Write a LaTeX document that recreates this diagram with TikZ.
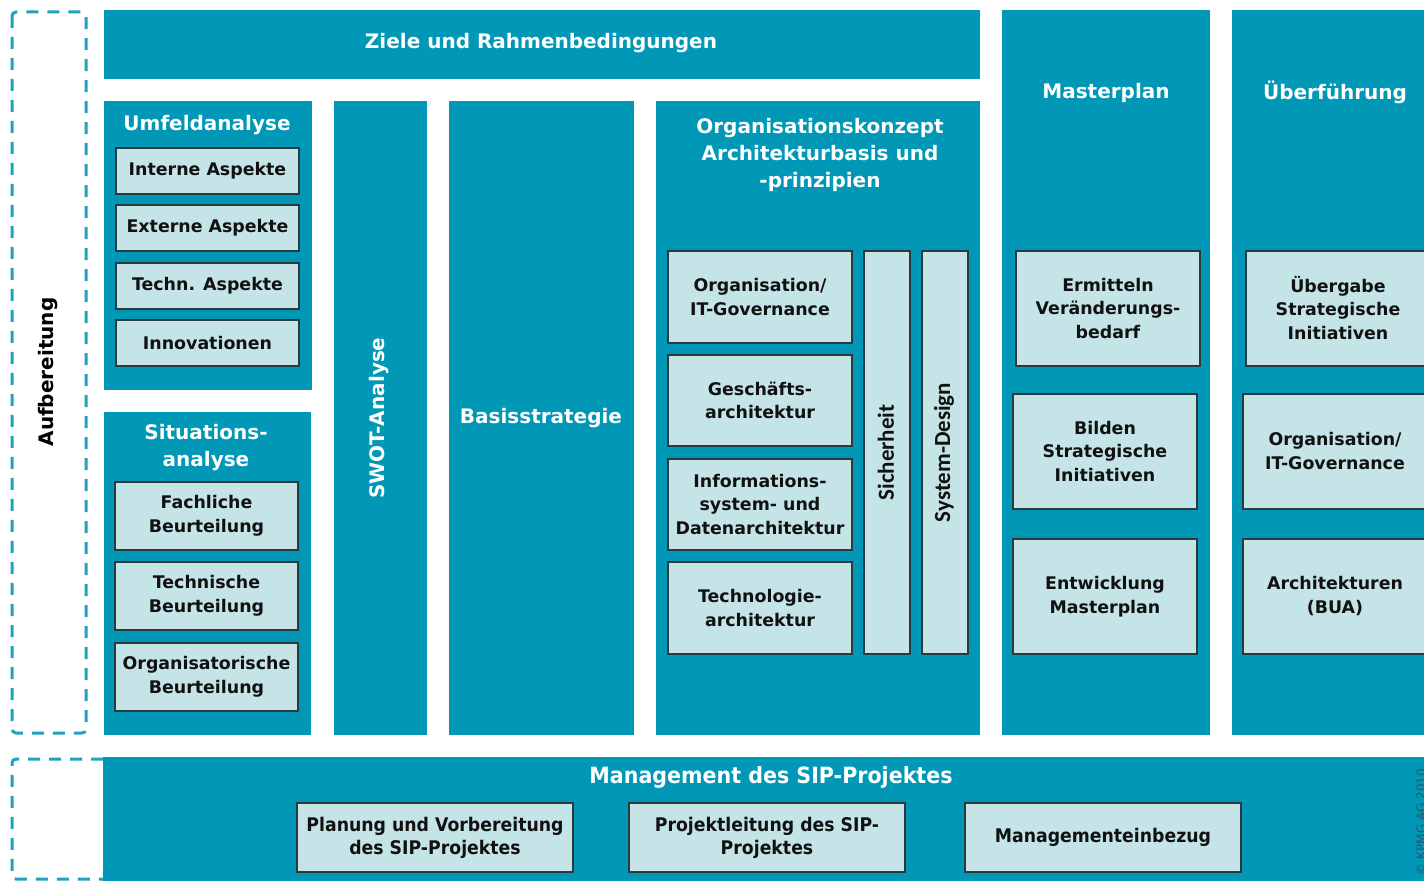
\documentclass[tikz,border=0pt]{standalone}
\usepackage{fontspec}
\setmainfont{DejaVu Sans}
\newfontfamily\condfont[FakeStretch=0.92]{DejaVu Sans}
\newfontfamily\calfont{Carlito}
\usetikzlibrary{fit}
\definecolor{tealA}{HTML}{0098B6}
\definecolor{liteA}{HTML}{C5E4E8}
\definecolor{lineA}{HTML}{2B3A3E}
\definecolor{dashA}{HTML}{1EA2BF}
\definecolor{txtA}{HTML}{111111}
\definecolor{copyA}{HTML}{24596A}
\tikzset{
  dark/.style={fill=tealA, draw=none, inner sep=0pt},
  lite/.style={fill=liteA, draw=lineA, line width=0.7pt, inner sep=0pt},
  btxt/.style={text=txtA, font=\fontsize{8.7}{11.8}\selectfont\bfseries, align=center, inner sep=0pt},
  ttl/.style={text=white, font=\fontsize{10}{13.5}\selectfont\bfseries, align=center},
  dsh/.style={draw=dashA, line width=1.5pt, dash pattern=on 6pt off 4.5pt, rounded corners=2pt},
  cond/.style={font=\condfont\fontsize{9.4}{11.5}\selectfont\bfseries},
  vert/.style={rotate=90, text=txtA, font=\calfont\fontsize{11.5}{13}\selectfont\bfseries}
}
\begin{document}
\begin{tikzpicture}[x=0.5pt,y=-0.5pt]
\useasboundingbox (0,0) rectangle (1424,881);

% dashed frames
\draw[dsh] (12,12) rectangle (86,733);
\draw[dsh] (103,759) -- (12,759) -- (12,879) -- (103,879);
\node[rotate=90, text=black, font=\fontsize{10}{12}\selectfont\bfseries] (aufb) at (48,372) {Aufbereitung};

% top bar
\node[dark, fit={(104,10) (980,79)}] (ziele) {};
\node[ttl] (zieleT) at (541,43) {Ziele und Rahmenbedingungen};

% Umfeldanalyse
\node[dark, fit={(104,101) (312,390)}] (umf) {};
\node[ttl] (umfT) at (207,125) {Umfeldanalyse};
\node[lite, fit={(116,148) (299,194)}] (intern) {};
\node[btxt] at (intern.center) {Interne Aspekte};
\node[lite, fit={(116,205) (299,251)}] (extern) {};
\node[btxt] at (extern.center) {Externe Aspekte};
\node[lite, fit={(116,263) (299,309)}] (techn) {};
\node[btxt] at (techn.center) {Techn. Aspekte};
\node[lite, fit={(116,320) (299,366)}] (innov) {};
\node[btxt] at (innov.center) {Innovationen};

% Situationsanalyse
\node[dark, fit={(104,412) (311,735)}] (sit) {};
\node[ttl] (sitT) at (206,448) {Situations-\\analyse};
\node[lite, fit={(115,482) (298,550)}] (fach) {};
\node[btxt] at (fach.center) {Fachliche\\Beurteilung};
\node[lite, fit={(115,562) (298,630)}] (techb) {};
\node[btxt] at (techb.center) {Technische\\Beurteilung};
\node[lite, fit={(115,643) (298,711)}] (orgb) {};
\node[btxt] at (orgb.center) {Organisatorische\\Beurteilung};

% SWOT and Basisstrategie
\node[dark, fit={(334,101) (427,735)}] (swot) {};
\node[ttl, rotate=90] (swotT) at (379,418) {SWOT-Analyse};
\node[dark, fit={(449,101) (634,735)}] (basis) {};
\node[ttl] (basisT) at (541,418) {Basisstrategie};

% Organisationskonzept
\node[dark, fit={(656,101) (980,735)}] (orgk) {};
\node[ttl] (orgkT) at (820,155) {Organisationskonzept\\Architekturbasis und\\-prinzipien};
\node[lite, fit={(668,251) (852,343)}] (orggov) {};
\node[btxt] at (orggov.center) {Organisation/\\IT-Governance};
\node[lite, fit={(668,355) (852,446)}] (gesch) {};
\node[btxt] at (gesch.center) {Geschäfts-\\architektur};
\node[lite, fit={(668,459) (852,550)}] (info) {};
\node[btxt] at (info.center) {Informations-\\system- und\\Datenarchitektur};
\node[lite, fit={(668,562) (852,654)}] (techno) {};
\node[btxt] at (techno.center) {Technologie-\\architektur};
\node[lite, fit={(864,251) (910,654)}] (sich) {};
\node[vert] (sichT) at ([xshift=-0.5pt]sich.center) {Sicherheit};
\node[lite, fit={(922,251) (968,654)}] (sysd) {};
\node[vert] (sysdT) at ([xshift=-0.5pt]sysd.center) {System-Design};

% Masterplan
\node[dark, fit={(1002,10) (1210,735)}] (master) {};
\node[ttl] (masterT) at (1106,93) {Masterplan};
\node[lite, fit={(1016,251) (1200,366)}] (ermit) {};
\node[btxt] at (ermit.center) {Ermitteln\\Veränderungs-\\bedarf};
\node[lite, fit={(1013,394) (1197,509)}] (bild) {};
\node[btxt] at (bild.center) {Bilden\\Strategische\\Initiativen};
\node[lite, fit={(1013,539) (1197,654)}] (entw) {};
\node[btxt] at (entw.center) {Entwicklung\\Masterplan};

% Ueberfuehrung
\node[dark, fit={(1232,10) (1440,735)}] (ueber) {};
\node[ttl] (ueberT) at (1335,92) {Überführung};
\node[lite, fit={(1246,251) (1430,366)}] (uebg) {};
\node[btxt] at (1338,308) {Übergabe\\Strategische\\Initiativen};
\node[lite, fit={(1243,394) (1427,509)}] (orggov2) {};
\node[btxt] at (1335,451) {Organisation/\\IT-Governance};
\node[lite, fit={(1243,539) (1427,654)}] (arch) {};
\node[btxt] at (1335,596) {Architekturen\\(BUA)};

% Management
\node[dark, fit={(103,757) (1440,890)}] (mgmt) {};
\node[ttl, font=\condfont\fontsize{11.2}{12}\selectfont\bfseries] (mgmtT) at (771,777) {Management des SIP-Projektes};
\node[lite, fit={(297,803) (573,872)}] (plan) {};
\node[btxt, cond] at (plan.center) {Planung und Vorbereitung\\des SIP-Projektes};
\node[lite, fit={(629,803) (905,872)}] (projl) {};
\node[btxt, cond] at (projl.center) {Projektleitung des SIP-\\Projektes};
\node[lite, fit={(965,803) (1241,872)}] (mein) {};
\node[btxt, cond] at (mein.center) {Managementeinbezug};

\node[rotate=90, text=copyA, font=\fontsize{6}{7}\selectfont] (copy) at (1421,822) {© KPMG AG 2010};
\end{tikzpicture}
\end{document}
